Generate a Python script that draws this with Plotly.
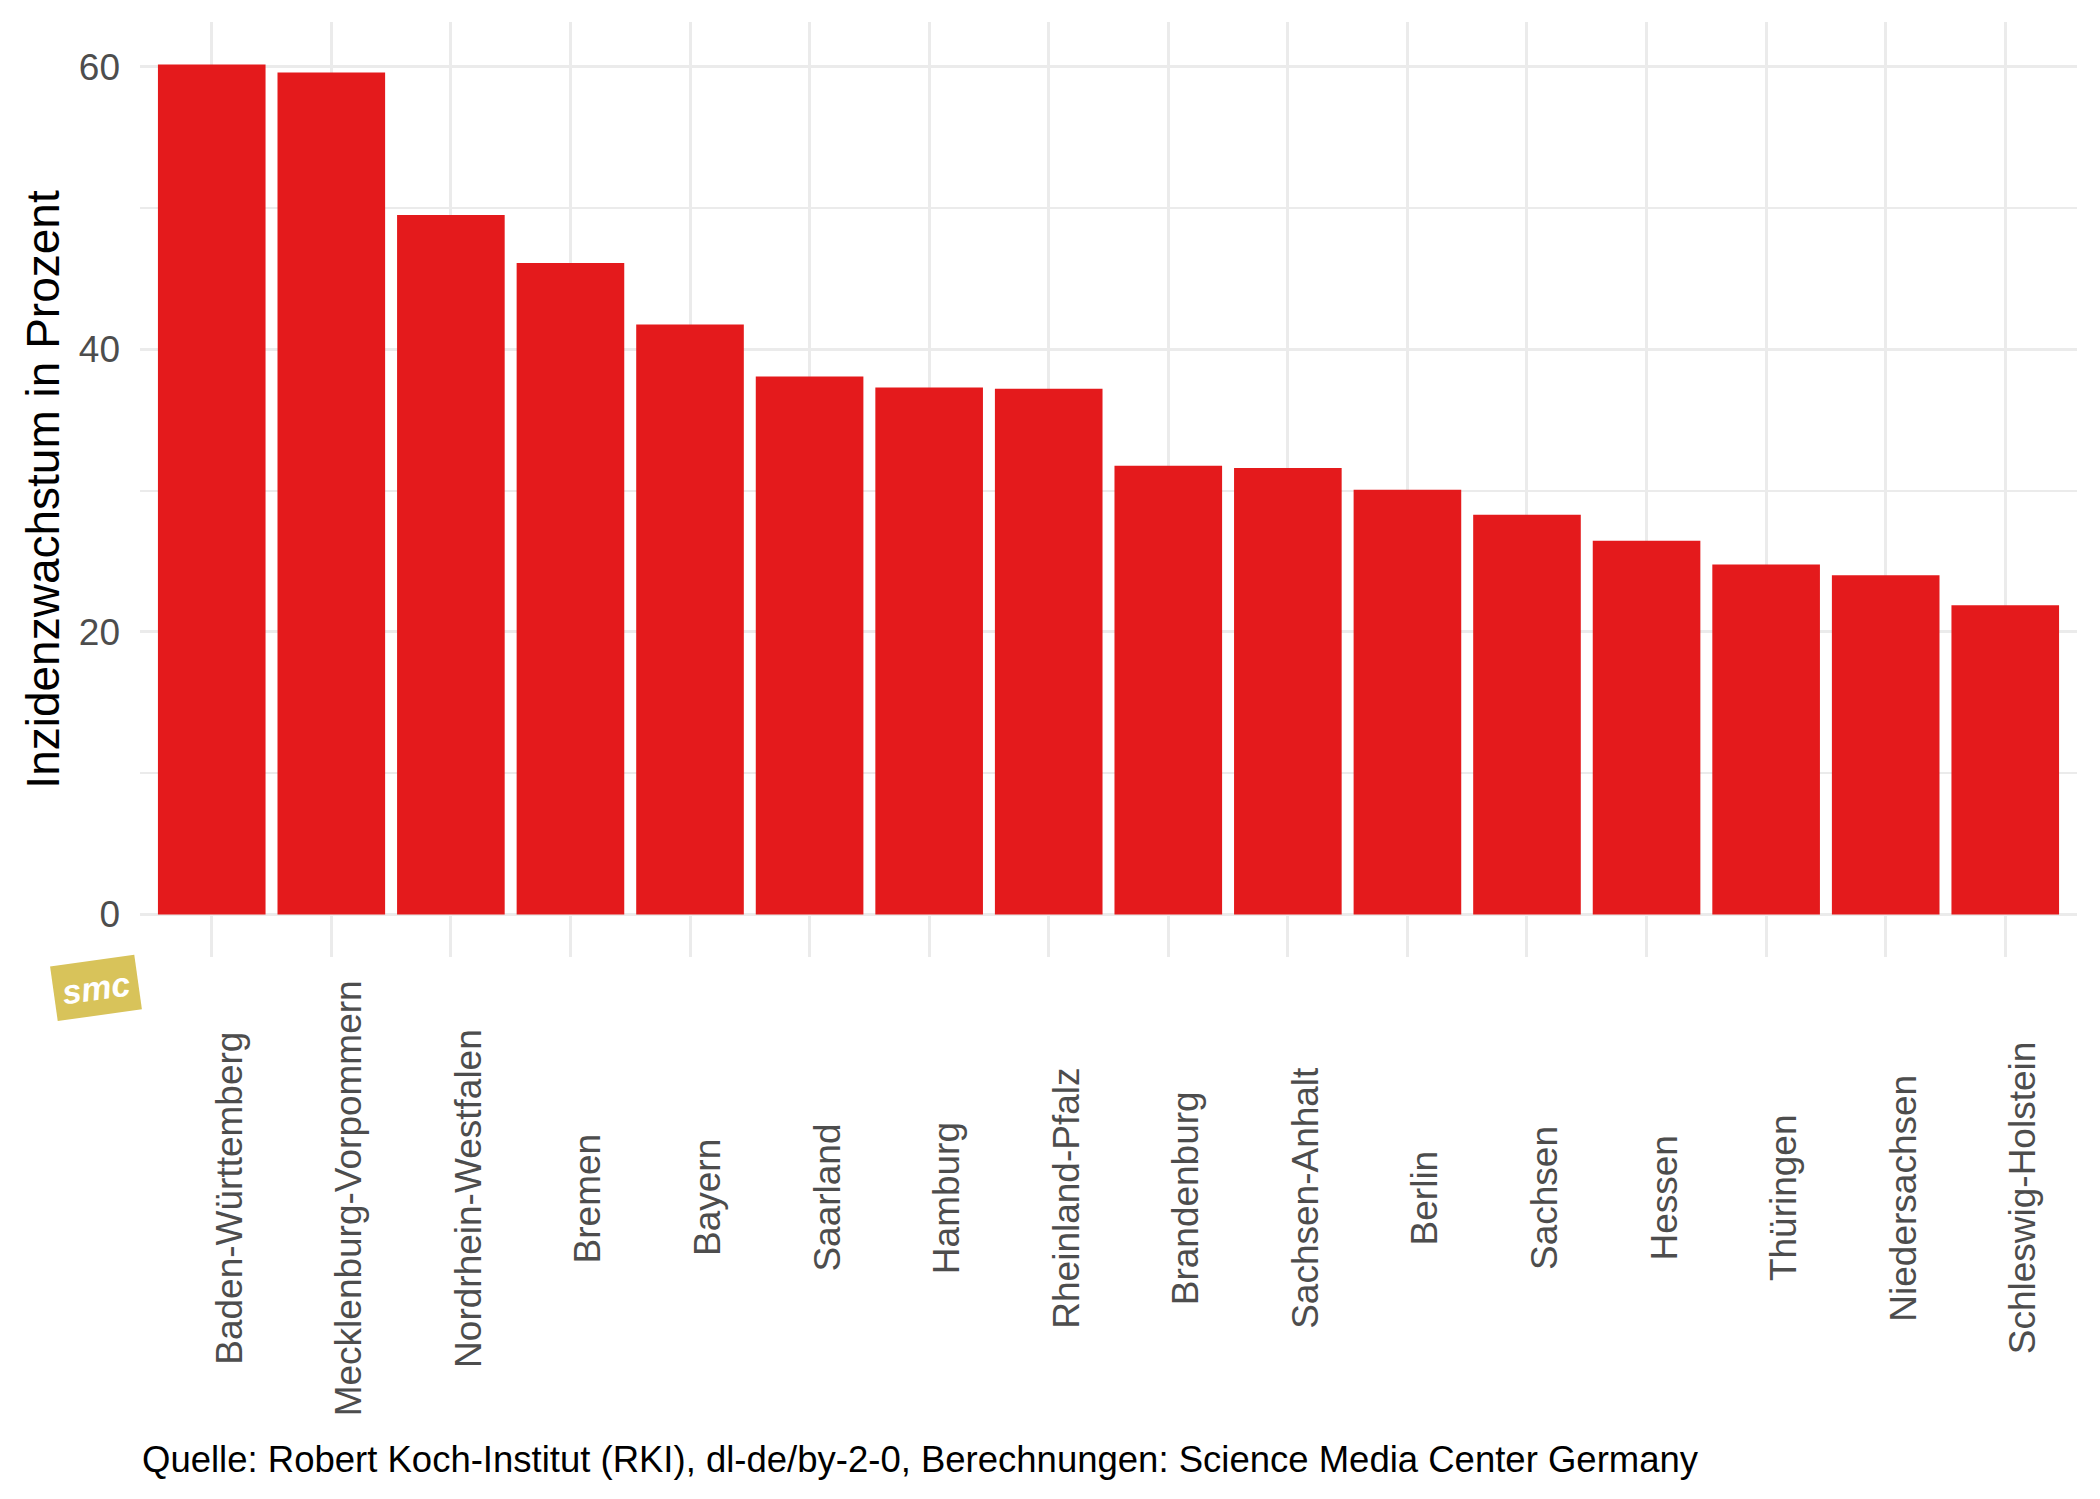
import plotly.graph_objects as go

states = ["Baden-Württemberg", "Mecklenburg-Vorpommern", "Nordrhein-Westfalen", "Bremen",
          "Bayern", "Saarland", "Hamburg", "Rheinland-Pfalz", "Brandenburg", "Sachsen-Anhalt",
          "Berlin", "Sachsen", "Hessen", "Thüringen", "Niedersachsen", "Schleswig-Holstein"]
growth = [60.15, 59.58, 49.5, 46.1, 41.75, 38.07, 37.29, 37.2, 31.75, 31.6,
          30.05, 28.28, 26.45, 24.77, 24.0, 21.89]
y_ticks = [0, 20, 40, 60]
y_title = "Inzidenzwachstum in Prozent"
caption = "Quelle: Robert Koch-Institut (RKI), dl-de/by-2-0, Berechnungen: Science Media Center Germany"

W, H = 2100, 1499
OFF = 8  # default body margin of the html page
PX0, PX1, PY0, PY1 = 140, 2077, 22, 957  # target plot area in screenshot pixels
L = PX0 - OFF
T = PY0 - OFF
R = W - L - (PX1 - PX0)
B = H - T - (PY1 - PY0)
FONT = "Liberation Sans, Arial, sans-serif"

fig = go.Figure()
fig.add_trace(go.Bar(x=states, y=growth, marker=dict(color="#E41A1C", line=dict(width=0)),
                     showlegend=False))

ymax = max(growth) * 1.05
ymin = -max(growth) * 0.05

fig.update_layout(
    width=W, height=H,
    margin=dict(l=L, r=R, t=T, b=B),
    paper_bgcolor="white", plot_bgcolor="white",
    bargap=0.1,
    font=dict(family=FONT),
    xaxis=dict(range=[-0.6, len(states) - 0.4], showticklabels=False, showgrid=True,
               gridcolor="#EBEBEB", gridwidth=3, zeroline=False, showline=False, ticks=""),
    yaxis=dict(range=[ymin, ymax], tickvals=y_ticks, ticktext=[str(v) for v in y_ticks],
               showgrid=True, gridcolor="#EBEBEB", gridwidth=3, zeroline=False, showline=False,
               ticks="", ticklabelstandoff=19,
               tickfont=dict(size=37, color="#4D4D4D", family=FONT),
               minor=dict(dtick=10, tick0=0, showgrid=True, gridcolor="#EBEBEB", gridwidth=1.5),
               title=dict(text=y_title, font=dict(size=46, color="black", family=FONT), standoff=4)),
)

plot_w = PX1 - PX0
plot_h = PY1 - PY0
label_y = (PY1 - 1198) / plot_h
for s in states:
    fig.add_annotation(x=s, xref="x", y=label_y, yref="paper", text=s, textangle=-90,
                       showarrow=False, xanchor="center", yanchor="middle", xshift=17,
                       font=dict(size=37, color="#4D4D4D", family=FONT))

fig.add_annotation(x=0, xref="paper", y=(PY1 - 1459) / plot_h, yref="paper", text=caption,
                   showarrow=False, xanchor="left", yanchor="middle",
                   font=dict(size=36.5, color="black", family=FONT))

# smc logo approximation
fig.add_annotation(x=(95.5 - PX0) / plot_w, xref="paper", y=(PY1 - 988) / plot_h, yref="paper",
                   text="<b><i>smc</i></b>", showarrow=False, xanchor="center", yanchor="middle",
                   bgcolor="#D8C35A", borderpad=8, textangle=-8,
                   font=dict(size=34, color="white", family=FONT))

fig.write_html("out.html")
